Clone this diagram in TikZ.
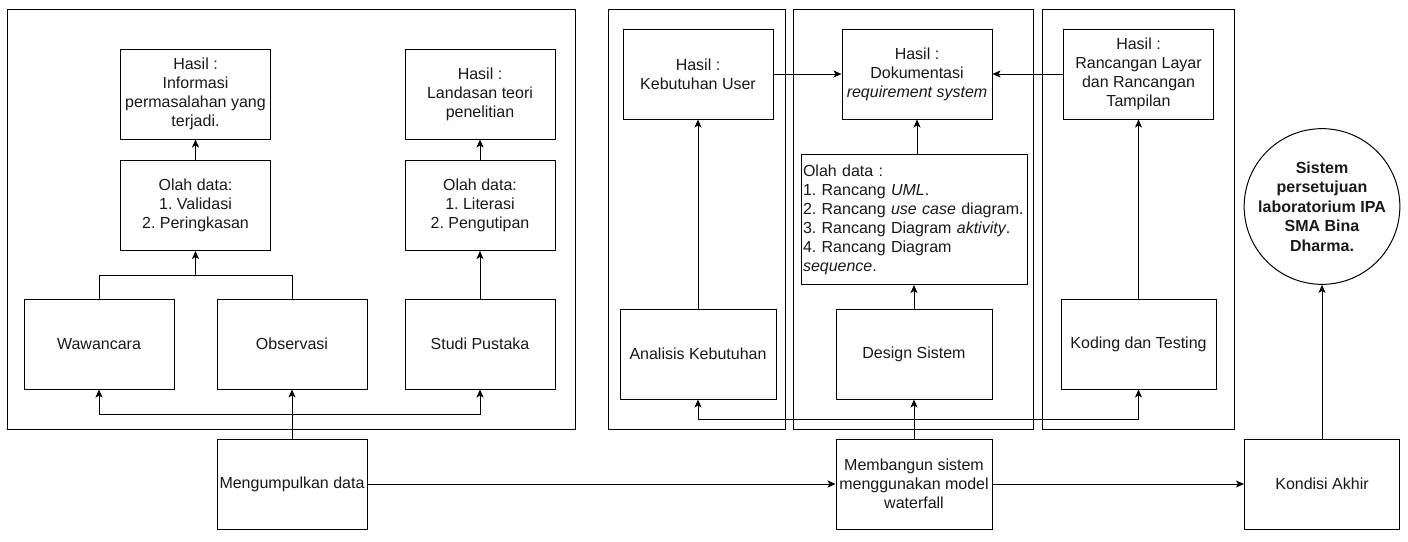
\documentclass[tikz,border=0pt]{standalone}
\usepackage{fontspec}
\setmainfont{Liberation Sans}
\usetikzlibrary{arrows.meta}
\frenchspacing
\hyphenpenalty=10000
\begin{document}
\begin{tikzpicture}[x=1pt,y=-1pt,
  every node/.style={font=\fontsize{16}{19}\selectfont, text=black!90},
  box/.style={draw, line width=1pt, minimum width=150pt, minimum height=90pt,
    align=center, inner sep=1pt},
  wbox/.style={box, minimum width=156pt},
  frame/.style={draw, line width=1pt},
  link/.style={line width=1pt},
  arr/.style={link, -{Stealth[length=8pt,width=7pt,inset=2pt]}}]

\fill[white] (0,0) rectangle (1408,541);
\useasboundingbox (0,0) rectangle (1408,541);

% group frames
\draw[frame] (7,9) rectangle (575,429);
\draw[frame] (608,9) rectangle (785,429);
\draw[frame] (793,9) rectangle (1033,429);
\draw[frame] (1042,9) rectangle (1234,429);

% data collection
\node[box] (h1) at (195.5,94) {Hasil :\\Informasi\\permasalahan yang\\terjadi.};
\node[box] (o1) at (195.5,205.5) {Olah data:\\1. Validasi\\2. Peringkasan};
\node[box] (waw) at (99,344) {Wawancara};
\node[box] (obs) at (292,344) {Observasi};
\node[box] (stu) at (480,344) {Studi Pustaka};
\node[box] (o2) at (480,205.5) {Olah data:\\1. Literasi\\2. Pengutipan};
\node[box] (h2) at (480,94) {Hasil :\\Landasan teori\\penelitian};
\node[box] (mk) at (292,484) {Mengumpulkan data};

% waterfall stages
\node[box] (hk) at (698,74) {Hasil :\\Kebutuhan User};
\node[wbox] (an) at (698,354) {Analisis Kebutuhan};
\node[box] (dok) at (917,74) {Hasil :\\Dokumentasi\\\textit{requirement system}};
\node[draw, line width=1pt, minimum width=226pt, minimum height=130pt,
  text width=222pt, align=left, inner sep=1pt] (od) at (914,219.5)
  {Olah data :\\1. Rancang \textit{UML}.\\2. Rancang \textit{use case} diagram.\\3. Rancang Diagram \textit{aktivity}.\\4. Rancang Diagram\\\textit{sequence}.};
\node[wbox] (ds) at (914,354) {Design Sistem};
\node[box] (rl) at (1138.5,74) {Hasil :\\Rancangan Layar\\dan Rancangan\\Tampilan};
\node[wbox, minimum width=155pt] (kt) at (1138.5,344) {Koding dan Testing};
\node[wbox] (mb) at (914,484) {Membangun sistem\\menggunakan model\\waterfall};

% result
\node[wbox, minimum width=155pt] (ka) at (1322,484) {Kondisi Akhir};
\node[draw, circle, line width=1pt, minimum size=141pt, align=center, inner sep=0pt,
  font=\fontsize{16}{19.5}\selectfont\bfseries] (res) at (1322,206.5)
  {Sistem\\persetujuan\\laboratorium IPA\\SMA Bina\\Dharma.};

% connectors: data collection
\draw[arr] (o1) -- (h1);
\coordinate (m1) at (195.5,275);
\draw[link] (waw.north) |- (obs.north |- m1) -- (obs.north);
\draw[arr] (m1) -- (o1.south);
\draw[arr] (stu) -- (o2);
\draw[arr] (o2) -- (h2);
\coordinate (d1) at (292,414);
\draw[arr] (mk.north) -- (obs.south);
\draw[arr] (d1) -| (waw.south);
\draw[arr] (d1) -| (stu.south);

% connectors: main flow
\draw[arr] (mk.east) -- (mb.west);
\draw[arr] (mb.east) -- (ka.west);
\draw[arr] (ka.north) -- (res.south);

% connectors: waterfall
\coordinate (d2) at (914,419);
\draw[arr] (mb.north) -- (ds.south);
\draw[arr] (d2) -| (an.south);
\draw[arr] (d2) -| (kt.south);
\draw[arr] (an) -- (hk);
\draw[arr] (ds) -- (od);
\draw[arr] (dok.south |- od.north) -- (dok.south);
\draw[arr] (kt) -- (rl);
\draw[arr] (hk.east) -- (dok.west);
\draw[arr] (rl.west) -- (dok.east);
\end{tikzpicture}
\end{document}
